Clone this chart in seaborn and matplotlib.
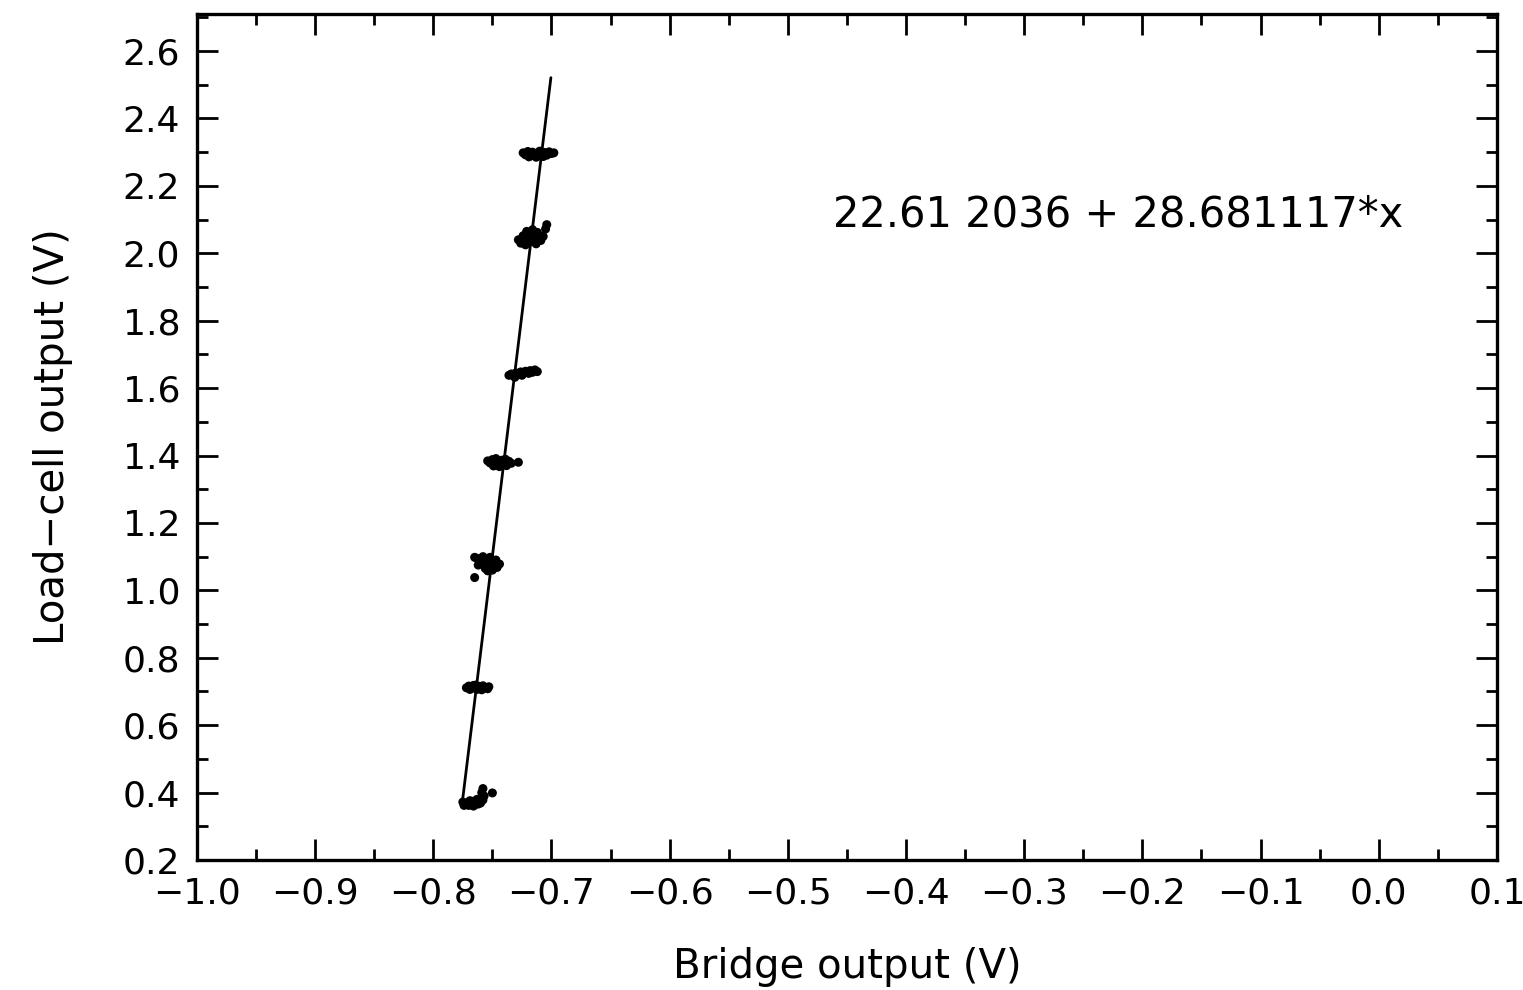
import numpy as np
import pandas as pd
import matplotlib
matplotlib.use("Agg")
import matplotlib.pyplot as plt
from matplotlib.ticker import MultipleLocator, FuncFormatter
import seaborn as sns

# fit shown on the chart
intercept = 22.612036
slope = 28.681117
line_x = [-0.7755, -0.7005]

# measured clusters (bridge output, load-cell output), one list pair per load step
x_a = [-0.775, -0.773, -0.771, -0.770, -0.768, -0.767, -0.765, -0.764, -0.762, -0.761,
       -0.760, -0.758, -0.757, -0.759, -0.758, -0.750, -0.774, -0.769, -0.766, -0.763]
y_a = [0.372, 0.365, 0.370, 0.362, 0.368, 0.374, 0.364, 0.371, 0.366, 0.375,
       0.369, 0.378, 0.390, 0.400, 0.412, 0.399, 0.362, 0.376, 0.360, 0.380]

x_b = [-0.772, -0.770, -0.768, -0.766, -0.765, -0.763, -0.761, -0.760, -0.758, -0.756,
       -0.754, -0.753, -0.769, -0.764, -0.759]
y_b = [0.711, 0.716, 0.709, 0.718, 0.713, 0.706, 0.715, 0.710, 0.717, 0.712,
       0.708, 0.714, 0.706, 0.719, 0.705]

x_c = [-0.763, -0.762, -0.758, -0.756, -0.755, -0.753, -0.752, -0.750, -0.749, -0.747,
       -0.746, -0.744, -0.757, -0.751, -0.748, -0.765, -0.754, -0.765]
y_c = [1.095, 1.075, 1.100, 1.065, 1.088, 1.072, 1.098, 1.060, 1.082, 1.090,
       1.068, 1.078, 1.081, 1.092, 1.070, 1.038, 1.058, 1.098]

x_d = [-0.754, -0.752, -0.750, -0.748, -0.747, -0.745, -0.743, -0.742, -0.740, -0.738,
       -0.736, -0.734, -0.749, -0.744, -0.739, -0.728]
y_d = [1.384, 1.378, 1.388, 1.375, 1.391, 1.380, 1.372, 1.386, 1.379, 1.370,
       1.383, 1.377, 1.369, 1.367, 1.389, 1.380]

x_e = [-0.736, -0.734, -0.732, -0.730, -0.728, -0.726, -0.724, -0.722, -0.720, -0.718,
       -0.716, -0.714, -0.712, -0.731, -0.725, -0.719]
y_e = [1.638, 1.642, 1.636, 1.645, 1.640, 1.648, 1.643, 1.650, 1.645, 1.652,
       1.647, 1.654, 1.649, 1.632, 1.638, 1.644]

x_f = [-0.728, -0.726, -0.724, -0.722, -0.720, -0.719, -0.717, -0.715, -0.713, -0.711,
       -0.709, -0.707, -0.721, -0.716, -0.712, -0.705, -0.704]
y_f = [2.040, 2.030, 2.052, 2.025, 2.045, 2.060, 2.035, 2.055, 2.028, 2.048,
       2.038, 2.050, 2.065, 2.070, 2.062, 2.072, 2.085]

x_g = [-0.724, -0.722, -0.720, -0.718, -0.716, -0.714, -0.712, -0.710, -0.708, -0.706,
       -0.704, -0.702, -0.700, -0.698, -0.719, -0.713, -0.707]
y_g = [2.298, 2.292, 2.302, 2.290, 2.300, 2.295, 2.288, 2.303, 2.294, 2.299,
       2.291, 2.301, 2.296, 2.298, 2.286, 2.285, 2.287]

xs = [x_a, x_b, x_c, x_d, x_e, x_f, x_g]
ys = [y_a, y_b, y_c, y_d, y_e, y_f, y_g]
pts = pd.DataFrame({
    "bridge": np.concatenate(xs),
    "load": np.concatenate(ys),
})
fit = pd.DataFrame({"bridge": line_x})
fit["load"] = intercept + slope * fit["bridge"]

sns.set_style("ticks")
plt.rcParams["font.family"] = ["DejaVu Sans"]
plt.rcParams["text.color"] = "black"
plt.rcParams["axes.labelcolor"] = "black"


def fmt(v, pos):
    s = f"{v:.1f}"
    if s == "-0.0":
        s = "0.0"
    return s.replace("-", "\u2212")


fig = plt.figure(figsize=(15.23, 9.9), dpi=100)
ax = fig.add_axes([0.1293, 0.1313, 0.8536, 0.8546])

sns.scatterplot(data=pts, x="bridge", y="load", color="black", s=42,
                edgecolor="none", ax=ax, legend=False)
sns.lineplot(data=fit, x="bridge", y="load", color="black", lw=2.0, ax=ax)

ax.set_xlim(-1.0, 0.1)
ax.set_ylim(0.2, 2.71)
ax.xaxis.set_major_locator(MultipleLocator(0.1))
ax.xaxis.set_minor_locator(MultipleLocator(0.05))
ax.yaxis.set_major_locator(MultipleLocator(0.2))
ax.yaxis.set_minor_locator(MultipleLocator(0.1))
ax.xaxis.set_major_formatter(FuncFormatter(fmt))
ax.yaxis.set_major_formatter(FuncFormatter(fmt))
ax.tick_params(which="both", direction="in", top=True, right=True,
               width=2, color="black", labelcolor="black")
ax.tick_params(which="major", length=15, labelsize=26, pad=12)
ax.tick_params(which="minor", length=8)
for s in ax.spines.values():
    s.set_linewidth(2.4)
    s.set_color("black")

ax.set_xlabel("Bridge output (V)", fontsize=29, labelpad=26)
ax.set_ylabel("Load\u2212cell output (V)", fontsize=29, labelpad=36)
ax.text(-0.462, 2.114, "22.61 2036 + 28.681117*x", fontsize=30, va="center", ha="left")

fig.savefig("out.png", dpi=100)
